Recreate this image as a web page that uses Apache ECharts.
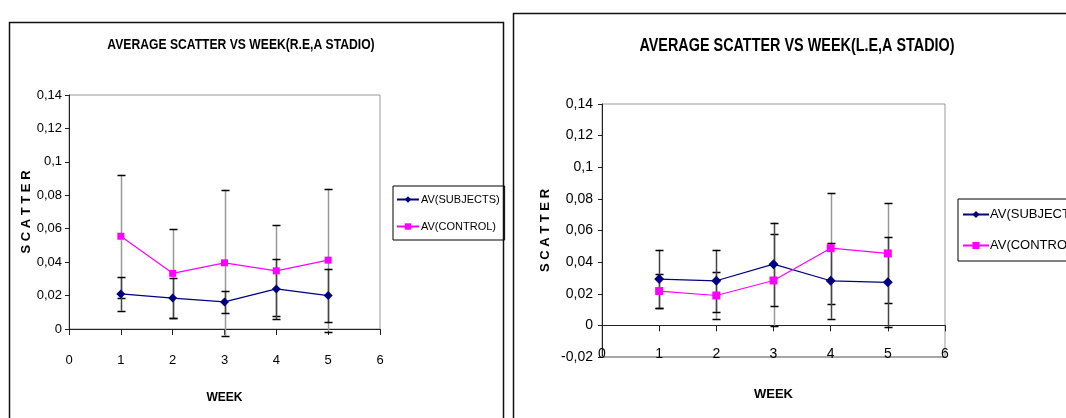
<!DOCTYPE html>
<html>
<head>
<meta charset="utf-8">
<script src="https://cdn.jsdelivr.net/npm/echarts@6/dist/echarts.min.js"></script>
<style>
  html, body { margin: 0; padding: 0; background: #fff; }
  #chart { width: 1066px; height: 418px; }
</style>
</head>
<body>
<div id="chart"></div>
<script>
// Weeks on the horizontal axis
const weeks = [1, 2, 3, 4, 5];

// Right eye (R.E) averages and error amounts
const subjectsRE = [0.021, 0.0185, 0.0162, 0.024, 0.020];
const subjectsREErr = [0.010, 0.012, 0.0066, 0.018, 0.016];
const controlRE = [0.0555, 0.0333, 0.0396, 0.0348, 0.0412];
const controlREErr = [0.0368, 0.0265, 0.0437, 0.0273, 0.0427];

// Left eye (L.E) averages and error amounts
const subjectsLE = [0.0293, 0.0282, 0.0387, 0.0282, 0.0272];
const subjectsLEErr = [0.0185, 0.0196, 0.0263, 0.0240, 0.0284];
const controlLE = [0.0217, 0.0189, 0.0284, 0.0488, 0.0455];
const controlLEErr = [0.0105, 0.0150, 0.0291, 0.0350, 0.0316];

const seriesNames = ['AV(SUBJECTS)', 'AV(CONTROL)'];
const titles = ['AVERAGE SCATTER VS WEEK(R.E,A STADIO)', 'AVERAGE SCATTER VS WEEK(L.E,A STADIO)'];
const yAxisTitle = 'S C A T T E R';
const xAxisTitle = 'WEEK';

const FONT = "'Liberation Sans Narrow', 'Arial Narrow', 'Liberation Sans', Arial, sans-serif";
const NAVY = '#000080';
const MAGENTA = '#FF00FF';

const commaFmt = v => String(+v.toFixed(2)).replace('.', ',');

function points(vals) { return weeks.map((w, i) => [w, vals[i]]); }
function errPoints(vals, errs) { return weeks.map((w, i) => [w, vals[i], errs[i]]); }

// Vertical error bar with end caps, drawn through the axes' coordinate system
function errorBars(name, data, stemColor, xAxisIndex, yAxisIndex) {
  return {
    type: 'custom', name: name + ' err', xAxisIndex, yAxisIndex, z: 1, clip: false,
    silent: true, legendHoverLink: false,
    data,
    renderItem(params, api) {
      const x = api.value(0), y = api.value(1), e = api.value(2);
      const hi = api.coord([x, y + e]);
      const lo = api.coord([x, y - e]);
      const cx = Math.round(hi[0]) + 0.5;
      const capW = 4;
      const yHi = Math.round(hi[1]) + 0.5, yLo = Math.round(lo[1]) + 0.5;
      return {
        type: 'group',
        children: [
          { type: 'line', shape: { x1: cx, y1: hi[1], x2: cx, y2: lo[1] }, style: { stroke: stemColor, lineWidth: 1.5 } },
          { type: 'line', shape: { x1: cx - capW, y1: yHi, x2: cx + capW, y2: yHi }, style: { stroke: '#000', lineWidth: 1.5 } },
          { type: 'line', shape: { x1: cx - capW, y1: yLo, x2: cx + capW, y2: yLo }, style: { stroke: '#000', lineWidth: 1.5 } }
        ]
      };
    }
  };
}

function lineSeries(name, data, color, symbol, size, xAxisIndex, yAxisIndex) {
  return {
    type: 'line', name, data, xAxisIndex, yAxisIndex, z: 3,
    symbol, symbolSize: size, showSymbol: true,
    lineStyle: { color, width: 1.2 },
    itemStyle: { color },
    emphasis: { disabled: true },
    animation: false
  };
}

const axisLineDark = { show: true, lineStyle: { color: '#222', width: 1 } };

const option = {
  animation: false,
  backgroundColor: '#fff',
  graphic: [
    { type: 'rect', shape: { x: 9.5, y: 22.5, width: 494, height: 430 }, style: { fill: null, stroke: '#111', lineWidth: 1.5 }, silent: true, z: -10 },
    { type: 'rect', shape: { x: 513.5, y: 13.5, width: 600, height: 440 }, style: { fill: null, stroke: '#111', lineWidth: 1.5 }, silent: true, z: -10 },
    { type: 'text', x: 241, y: 45, scaleX: 0.81, silent: true,
      style: { text: titles[0], fontFamily: FONT, fontSize: 15, fontWeight: 'bold', fill: '#000', textAlign: 'center', textVerticalAlign: 'middle' } },
    { type: 'text', x: 797, y: 46, scaleX: 0.8, silent: true,
      style: { text: titles[1], fontFamily: FONT, fontSize: 18, fontWeight: 'bold', fill: '#000', textAlign: 'center', textVerticalAlign: 'middle' } }
  ],
  legend: [
    {
      left: 393, top: 186, orient: 'vertical', data: seriesNames,
      borderColor: '#000', borderWidth: 1, padding: [8, 5, 8, 3], itemGap: 16,
      itemWidth: 22, itemHeight: 8, selectedMode: false,
      textStyle: { fontFamily: FONT, fontSize: 11, color: '#000', padding: [0, 0, 0, -3] }
    },
    {
      left: 958, top: 199, orient: 'vertical', data: seriesNames,
      borderColor: '#000', borderWidth: 1, padding: [9, 6, 9, 4], itemGap: 18,
      itemWidth: 26, itemHeight: 9, selectedMode: false,
      textStyle: { fontFamily: FONT, fontSize: 13, color: '#000', padding: [0, 0, 0, -4] }
    }
  ],
  grid: [
    { left: 69, top: 95, width: 311, height: 234, show: true, borderColor: '#999', borderWidth: 1, backgroundColor: 'transparent' },
    { left: 602, top: 104, width: 343, height: 253, show: true, borderColor: '#999', borderWidth: 1, backgroundColor: 'transparent' }
  ],
  xAxis: [
    {
      gridIndex: 0, type: 'value', min: 0, max: 6, interval: 1, position: 'bottom',
      axisLine: Object.assign({ onZero: false }, axisLineDark),
      axisTick: { show: true, inside: false, length: 6, lineStyle: { color: '#222' } },
      axisLabel: { margin: 25, fontFamily: FONT, fontSize: 13, color: '#000' },
      splitLine: { show: false },
      name: xAxisTitle, nameLocation: 'middle', nameGap: 63,
      nameTextStyle: { fontFamily: FONT, fontSize: 12, fontWeight: 'bold', color: '#000' }
    },
    {
      // axis line through zero, with ticks
      gridIndex: 1, type: 'value', min: 0, max: 6, interval: 1, position: 'bottom',
      axisLine: Object.assign({ onZero: true }, axisLineDark),
      axisTick: { show: true, inside: false, length: 6, lineStyle: { color: '#222' } },
      axisLabel: { show: false },
      splitLine: { show: false }
    },
    {
      // week labels along the bottom edge of the plot
      gridIndex: 1, type: 'value', min: 0, max: 6, interval: 1, position: 'bottom',
      axisLine: { show: true, onZero: false, lineStyle: { color: '#999', width: 1.5 } },
      axisTick: { show: false },
      axisLabel: { margin: -10, fontFamily: FONT, fontSize: 14, color: '#000' },
      splitLine: { show: false },
      name: xAxisTitle, nameLocation: 'middle', nameGap: 31,
      nameTextStyle: { fontFamily: FONT, fontSize: 13, fontWeight: 'bold', color: '#000' }
    }
  ],
  yAxis: [
    {
      gridIndex: 0, type: 'value', min: 0, max: 0.14, interval: 0.02,
      axisLine: Object.assign({ onZero: false }, axisLineDark),
      axisTick: { show: true, length: 4, lineStyle: { color: '#222' } },
      axisLabel: { margin: 7, fontFamily: FONT, fontSize: 13, color: '#000', formatter: commaFmt },
      splitLine: { show: false },
      name: yAxisTitle, nameLocation: 'middle', nameRotate: 90, nameGap: 36,
      nameTextStyle: { fontFamily: FONT, fontSize: 13, fontWeight: 'bold', color: '#000' }
    },
    {
      gridIndex: 1, type: 'value', min: -0.02, max: 0.14, interval: 0.02,
      axisLine: Object.assign({ onZero: false }, axisLineDark),
      axisTick: { show: true, length: 4, lineStyle: { color: '#222' } },
      axisLabel: { margin: 9, fontFamily: FONT, fontSize: 14, color: '#000', formatter: commaFmt },
      splitLine: { show: false },
      name: yAxisTitle, nameLocation: 'middle', nameRotate: 90, nameGap: 50,
      nameTextStyle: { fontFamily: FONT, fontSize: 13, fontWeight: 'bold', color: '#000' }
    }
  ],
  series: [
    errorBars(seriesNames[1], errPoints(controlRE, controlREErr), '#999', 0, 0),
    errorBars(seriesNames[0], errPoints(subjectsRE, subjectsREErr), '#444', 0, 0),
    lineSeries(seriesNames[0], points(subjectsRE), NAVY, 'diamond', 9, 0, 0),
    lineSeries(seriesNames[1], points(controlRE), MAGENTA, 'rect', 7, 0, 0),

    errorBars(seriesNames[1], errPoints(controlLE, controlLEErr), '#999', 1, 1),
    errorBars(seriesNames[0], errPoints(subjectsLE, subjectsLEErr), '#444', 1, 1),
    lineSeries(seriesNames[0], points(subjectsLE), NAVY, 'diamond', 10, 1, 1),
    lineSeries(seriesNames[1], points(controlLE), MAGENTA, 'rect', 8, 1, 1)
  ]
};

const chart = echarts.init(document.getElementById('chart'), null, { renderer: 'canvas' });
chart.setOption(option);
</script>
</body>
</html>
